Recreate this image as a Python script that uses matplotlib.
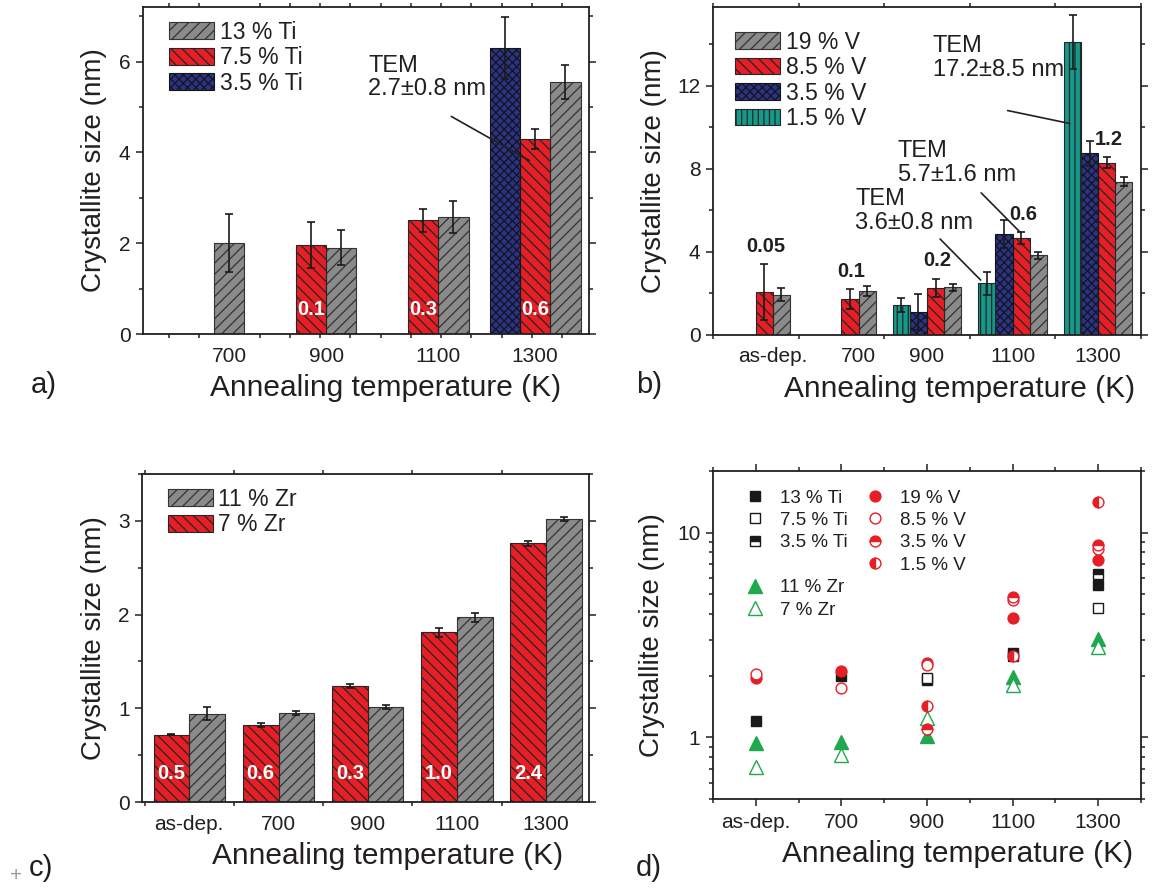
import numpy as np
import matplotlib
matplotlib.use('Agg')
import matplotlib.pyplot as plt
from matplotlib.ticker import MultipleLocator, FixedLocator, NullFormatter, LogLocator, FixedFormatter
from matplotlib.lines import Line2D

plt.rcParams['font.family'] = ['Liberation Sans', 'DejaVu Sans']
plt.rcParams['hatch.linewidth'] = 0.9
TXT = '#231f20'
plt.rcParams['text.color'] = TXT
plt.rcParams['axes.labelcolor'] = TXT
plt.rcParams['xtick.color'] = TXT
plt.rcParams['ytick.color'] = TXT
plt.rcParams['axes.edgecolor'] = TXT

nan = np.nan

# ---------------- data ----------------
# panel a (Ti)
temps_a = ['700', '900', '1100', '1300']
ti13 = [2.00, 1.90, 2.57, 5.55]
ti13_err = [0.64, 0.38, 0.35, 0.38]
ti75 = [nan, 1.96, 2.50, 4.30]
ti75_err = [nan, 0.50, 0.25, 0.22]
ti35 = [nan, nan, nan, 6.30]
ti35_err = [nan, nan, nan, 0.69]
ratio_a = ['', '0.1', '0.3', '0.6']

# panel b (V)
temps_b = ['as-dep.', '700', '900', '1100', '1300']
v19 = [1.95, 2.11, 2.30, 3.83, 7.39]
v19_err = [0.29, 0.23, 0.16, 0.19, 0.21]
v85 = [2.05, 1.74, 2.26, 4.67, 8.30]
v85_err = [1.35, 0.48, 0.45, 0.29, 0.27]
v35 = [nan, nan, 1.10, 4.85, 8.75]
v35_err = [nan, nan, 0.88, 0.68, 0.60]
v15 = [nan, nan, 1.43, 2.50, 14.13]
v15_err = [nan, nan, 0.33, 0.55, 1.30]
ratio_b = ['0.05', '0.1', '0.2', '0.6', '1.2']

# panel c (Zr)
temps_c = ['as-dep.', '700', '900', '1100', '1300']
zr11 = [0.94, 0.95, 1.015, 1.97, 3.02]
zr11_err = [0.07, 0.02, 0.025, 0.05, 0.02]
zr7 = [0.72, 0.82, 1.24, 1.81, 2.76]
zr7_err = [0.01, 0.02, 0.02, 0.05, 0.03]
ratio_c = ['0.5', '0.6', '0.3', '1.0', '2.4']

# panel d (all, log scale)
temps_d = ['as-dep.', '700', '900', '1100', '1300']
ti13_asdep = 1.20

GRAY = '#8a8a8a'
RED = '#e61e25'
BLUE = '#2a3389'
TEAL = '#14998a'
GREEN = '#1fa84d'
EDGE = '#262626'

fig = plt.figure(figsize=(11.66, 8.88), dpi=100)
W, H = 1166.0, 888.0


def add_ax(l, r, t, b):
    return fig.add_axes([l / W, 1 - b / H, (r - l) / W, (b - t) / H])


axa = add_ax(143, 589, 7, 334)
axb = add_ax(713, 1141, 7, 335)
axc = add_ax(142, 589, 474, 802)
axd = add_ax(713, 1141, 471, 799)

TICK_FS = 15
LAB_FS = 21.5
LEG_FS = 16.5


def draw_bars(ax, x, vals, errs, color, hatch, width, label, ecol=EDGE):
    v = np.array(vals, float)
    e = np.array(errs, float)
    m = ~np.isnan(v)
    h = ax.bar(x[m], v[m], width, color=color, edgecolor=ecol, hatch=hatch,
               linewidth=0.8, label=label, zorder=2)
    ax.errorbar(x[m], v[m], yerr=e[m], fmt='none', ecolor='#1a1a1a',
                elinewidth=1.2, capsize=2.6, capthick=1.2, zorder=3)
    return h


def style(ax):
    for s in ax.spines.values():
        s.set_linewidth(1.3)
    ax.tick_params(which='both', direction='out', top=True, right=True,
                   labelsize=TICK_FS, width=1.1, pad=4)
    ax.tick_params(which='major', length=5)
    ax.tick_params(which='minor', length=3)


def group_label_positions(xs_list, vals_list, n):
    pos = []
    for g in range(n):
        p = [xs[g] for xs, vs in zip(xs_list, vals_list) if not np.isnan(vs[g])]
        pos.append(np.mean(p))
    return pos


LEG_KW = dict(frameon=False, fontsize=LEG_FS, handlelength=1.96, handleheight=0.74,
              labelspacing=0.11, handletextpad=0.26, borderaxespad=0, borderpad=0.2)

# ---------------- panel a ----------------
ga = np.arange(len(temps_a), dtype=float)
wa = 0.27
xa_blue, xa_red, xa_gray = ga - wa, ga, ga + wa
h13 = draw_bars(axa, xa_gray, ti13, ti13_err, GRAY, '///', wa, '13 % Ti', '#333333')
h75 = draw_bars(axa, xa_red, ti75, ti75_err, RED, '\\\\\\', wa, '7.5 % Ti')
h35 = draw_bars(axa, xa_blue, ti35, ti35_err, BLUE, 'xxxx', wa, '3.5 % Ti', '#151515')
axa.set_xlim(-0.5, 3.48)
axa.set_ylim(0, 7.2)
axa.yaxis.set_major_locator(MultipleLocator(2))
axa.yaxis.set_minor_locator(MultipleLocator(1))
pa = group_label_positions([xa_blue, xa_red, xa_gray], [ti35, ti75, ti13], len(temps_a))
axa.set_xticks(pa)
axa.set_xticklabels(temps_a)
axa.xaxis.set_minor_locator(MultipleLocator(0.27))
style(axa)
axa.tick_params(axis='x', which='major', length=0, pad=9)
for i, t in enumerate(ratio_a):
    if t:
        axa.text(xa_red[i], 0.55, t, color='white', fontsize=14.5, fontweight='bold',
                 ha='center', va='center', zorder=4)
axa.legend(handles=[h13, h75, h35], loc='upper left', bbox_to_anchor=(0.048, 0.972), **LEG_KW)
axa.text(1.51, 6.15, 'TEM\n2.7\u00b10.8 nm', fontsize=17, ha='left', va='top',
         linespacing=1.05, zorder=5)
axa.annotate('', xy=(2.97, 3.79), xytext=(2.23, 4.82),
             arrowprops=dict(arrowstyle='-', lw=1.2, color=TXT), zorder=5)

# ---------------- panel b ----------------
gb = np.arange(len(temps_b), dtype=float)
wb = 0.2
xb_teal, xb_blue, xb_red, xb_gray = gb - 1.5 * wb, gb - 0.5 * wb, gb + 0.5 * wb, gb + 1.5 * wb
hb19 = draw_bars(axb, xb_gray, v19, v19_err, GRAY, '///', wb, '19 % V', '#333333')
hb85 = draw_bars(axb, xb_red, v85, v85_err, RED, '\\\\\\', wb, '8.5 % V')
hb35 = draw_bars(axb, xb_blue, v35, v35_err, BLUE, 'xxxx', wb, '3.5 % V', '#151515')
hb15 = draw_bars(axb, xb_teal, v15, v15_err, TEAL, '|||', wb, '1.5 % V')
axb.set_xlim(-0.5, 4.5)
axb.set_ylim(0, 15.8)
axb.yaxis.set_major_locator(MultipleLocator(4))
axb.yaxis.set_minor_locator(MultipleLocator(2))
pb = group_label_positions([xb_teal, xb_blue, xb_red, xb_gray], [v15, v35, v85, v19], len(temps_b))
axb.set_xticks(pb)
axb.set_xticklabels(temps_b)
axb.xaxis.set_minor_locator(FixedLocator(list(gb - 0.5) + [4.5]))
style(axb)
axb.tick_params(axis='x', which='major', length=0, pad=9)
for i, t in enumerate(ratio_b):
    top = v85[i] + v85_err[i]
    axb.text(xb_red[i] + 0.02, top + 0.4, t, fontsize=14.5, fontweight='bold',
             ha='center', va='bottom', zorder=4)
axb.legend(handles=[hb19, hb85, hb35, hb15], loc='upper left', bbox_to_anchor=(0.04, 0.942), **LEG_KW)
axb.text(2.07, 14.45, 'TEM\n17.2\u00b18.5 nm', fontsize=17, ha='left', va='top', linespacing=1.1, zorder=5)
axb.annotate('', xy=(3.70, 10.16), xytext=(2.91, 10.84),
             arrowprops=dict(arrowstyle='-', lw=1.2, color=TXT), zorder=5)
axb.text(1.66, 9.40, 'TEM\n5.7\u00b11.6 nm', fontsize=17, ha='left', va='top', linespacing=1.1, zorder=5)
axb.annotate('', xy=(3.12, 4.82), xytext=(2.61, 6.94),
             arrowprops=dict(arrowstyle='-', lw=1.2, color=TXT), zorder=5)
axb.text(1.16, 7.08, 'TEM\n3.6\u00b10.8 nm', fontsize=17, ha='left', va='top', linespacing=1.1, zorder=5)
axb.annotate('', xy=(2.65, 2.55), xytext=(2.13, 4.72),
             arrowprops=dict(arrowstyle='-', lw=1.2, color=TXT), zorder=5)

# ---------------- panel c ----------------
gc = np.arange(len(temps_c), dtype=float)
wc = 0.4
xc_red, xc_gray = gc - wc / 2, gc + wc / 2
hc11 = draw_bars(axc, xc_gray, zr11, zr11_err, GRAY, '///', wc, '11 % Zr', '#333333')
hc7 = draw_bars(axc, xc_red, zr7, zr7_err, RED, '\\\\\\', wc, '7 % Zr')
axc.set_xlim(-0.53, 4.48)
axc.set_ylim(0, 3.5)
axc.yaxis.set_major_locator(MultipleLocator(1))
axc.yaxis.set_minor_locator(MultipleLocator(0.5))
pc = group_label_positions([xc_red, xc_gray], [zr7, zr11], len(temps_c))
axc.set_xticks(pc)
axc.set_xticklabels(temps_c)
axc.xaxis.set_minor_locator(FixedLocator(list(gc - 0.5) + [4.5]))
style(axc)
axc.tick_params(axis='x', which='major', length=0, pad=9)
for i, t in enumerate(ratio_c):
    axc.text(xc_red[i], 0.30, t, color='white', fontsize=14.5, fontweight='bold',
             ha='center', va='center', zorder=4)
axc.legend(handles=[hc11, hc7], loc='upper left', bbox_to_anchor=(0.047, 0.972), **LEG_KW)

# ---------------- panel d ----------------
gd = np.arange(len(temps_d), dtype=float)
ti13_d = [ti13_asdep] + ti13
ti75_d = [nan] + ti75
ti35_d = [nan] + ti35
BLK = '#1a1a1a'
series_d = [
    (ti13_d, dict(marker='s', ms=6.5, mfc=BLK, mec=BLK), '13 % Ti'),
    (ti75_d, dict(marker='s', ms=6.5, mfc='white', mec=BLK, mew=1.0), '7.5 % Ti'),
    (ti35_d, dict(marker='s', ms=6.5, mfc=BLK, mec=BLK, fillstyle='top', markerfacecoloralt='white', mew=1.0), '3.5 % Ti'),
    (zr11, dict(marker='^', ms=9.5, mfc=GREEN, mec=GREEN), '11 % Zr'),
    (zr7, dict(marker='^', ms=9.5, mfc='white', mec=GREEN, mew=1.0), '7 % Zr'),
    (v19, dict(marker='o', ms=7.8, mfc=RED, mec=RED), '19 % V'),
    (v85, dict(marker='o', ms=7.8, mfc='white', mec=RED, mew=1.0), '8.5 % V'),
    (v35, dict(marker='o', ms=7.8, mfc=RED, mec=RED, fillstyle='top', markerfacecoloralt='white', mew=1.0), '3.5 % V'),
    (v15, dict(marker='o', ms=7.8, mfc=RED, mec=RED, fillstyle='left', markerfacecoloralt='white', mew=1.0), '1.5 % V'),
]
hd = {}
for vals, kw, lab in series_d:
    ln, = axd.plot(gd, np.array(vals, float), linestyle='none', label=lab, zorder=3, **kw)
    hd[lab] = ln
axd.set_yscale('log')
axd.set_xlim(-0.5, 4.5)
axd.set_ylim(0.5, 20)
axd.yaxis.set_major_locator(FixedLocator([1, 10]))
axd.yaxis.set_major_formatter(FixedFormatter(['1', '10']))
axd.yaxis.set_minor_locator(LogLocator(base=10, subs=np.arange(2, 10)))
axd.yaxis.set_minor_formatter(NullFormatter())
axd.set_xticks(gd)
axd.set_xticklabels(temps_d)
axd.xaxis.set_minor_locator(MultipleLocator(0.5))
style(axd)
axd.tick_params(axis='x', which='major', pad=5)
blank = Line2D([], [], linestyle='none')
handles_d = [hd['13 % Ti'], hd['7.5 % Ti'], hd['3.5 % Ti'], blank, hd['11 % Zr'], hd['7 % Zr'],
             hd['19 % V'], hd['8.5 % V'], hd['3.5 % V'], hd['1.5 % V'], blank, blank]
labels_d = ['13 % Ti', '7.5 % Ti', '3.5 % Ti', '', '11 % Zr', '7 % Zr',
            '19 % V', '8.5 % V', '3.5 % V', '1.5 % V', '', '']
axd.legend(handles_d, labels_d, ncol=2, loc='upper left', bbox_to_anchor=(0.068, 0.955),
           frameon=False, fontsize=13.5, handlelength=1.0, handletextpad=0.8,
           labelspacing=0.28, columnspacing=1.0, borderaxespad=0, borderpad=0.2,
           numpoints=1)

# ---------------- labels ----------------
xlab_x = {axa: 0.543, axb: 0.575, axc: 0.550, axd: 0.572}
for ax in (axa, axb, axc, axd):
    ax.set_xlabel('Annealing temperature (K)', fontsize=LAB_FS, labelpad=6)
    ax.xaxis.label.set_x(xlab_x[ax])
    ax.set_ylabel('Crystallite size (nm)', fontsize=20)
axa.yaxis.set_label_coords(-0.081, 0.5)
axb.yaxis.set_label_coords(-0.107, 0.5)
axc.yaxis.set_label_coords(-0.078, 0.5)
axd.yaxis.set_label_coords(-0.112, 0.5)

fig.text(31 / W, 1 - 385 / H, 'a)', fontsize=21, ha='left', va='center')
fig.text(636 / W, 1 - 385 / H, 'b)', fontsize=21, ha='left', va='center')
fig.text(29 / W, 1 - 868 / H, 'c)', fontsize=21, ha='left', va='center')
fig.text(636 / W, 1 - 868 / H, 'd)', fontsize=21, ha='left', va='center')
fig.text(16 / W, 1 - 875 / H, '+', fontsize=15, color='#9a9a9a', ha='center', va='center')

fig.savefig('out.png', dpi=100)
